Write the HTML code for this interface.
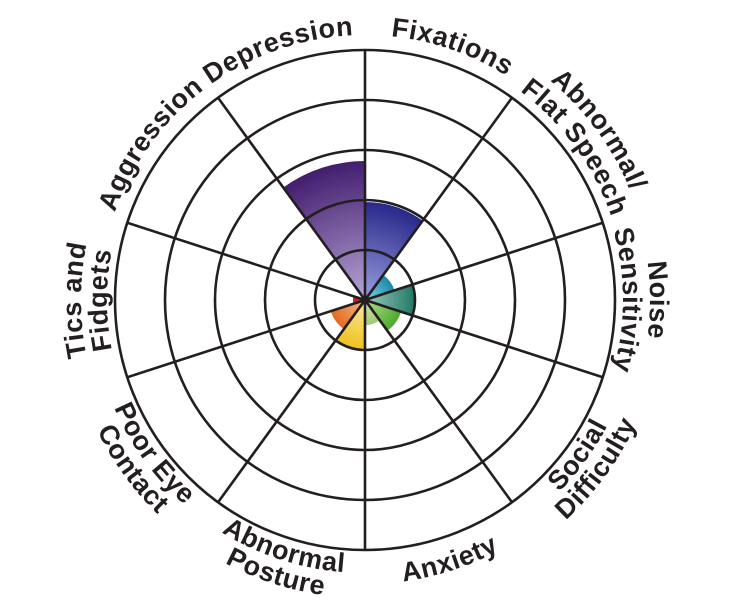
<!DOCTYPE html>
<html><head><meta charset="utf-8">
<style>
html,body{margin:0;padding:0;background:#fff;width:732px;height:600px;overflow:hidden}
svg{display:block}
text{font-family:"Liberation Sans",sans-serif;font-weight:bold;font-size:27px;letter-spacing:0.6px;fill:#231f20}
</style></head>
<body>
<svg id="s" width="732" height="600" viewBox="0 0 732 600" xmlns="http://www.w3.org/2000/svg">
<defs>
<radialGradient id="gP" cx="365" cy="300" r="140" gradientUnits="userSpaceOnUse"><stop offset="0" stop-color="#b7a6d6"/><stop offset="1" stop-color="#421c6e"/></radialGradient>
<radialGradient id="gB" cx="365" cy="300" r="100" gradientUnits="userSpaceOnUse"><stop offset="0" stop-color="#9aa0e0"/><stop offset="1" stop-color="#262688"/></radialGradient>
<radialGradient id="gT" cx="365" cy="300" r="32" gradientUnits="userSpaceOnUse"><stop offset="0" stop-color="#8cd4e8"/><stop offset="1" stop-color="#1487a6"/></radialGradient>
<radialGradient id="gN" cx="365" cy="300" r="50" gradientUnits="userSpaceOnUse"><stop offset="0" stop-color="#9cccc0"/><stop offset="1" stop-color="#237865"/></radialGradient>
<radialGradient id="gG" cx="365" cy="300" r="38" gradientUnits="userSpaceOnUse"><stop offset="0" stop-color="#b4dc90"/><stop offset="1" stop-color="#4cab2c"/></radialGradient>
<radialGradient id="gL" cx="365" cy="300" r="26" gradientUnits="userSpaceOnUse"><stop offset="0" stop-color="#d2e8b8"/><stop offset="1" stop-color="#9cc870"/></radialGradient>
<radialGradient id="gY" cx="365" cy="300" r="50" gradientUnits="userSpaceOnUse"><stop offset="0" stop-color="#fae8a0"/><stop offset="1" stop-color="#efc21c"/></radialGradient>
<radialGradient id="gO" cx="365" cy="300" r="36" gradientUnits="userSpaceOnUse"><stop offset="0" stop-color="#f8b890"/><stop offset="1" stop-color="#e46a1c"/></radialGradient>
</defs>
<g id="slices"></g>
<g id="grid" fill="none" stroke="#231f20" stroke-width="2.6"></g>
<g id="labels"></g>
</svg>
<script>
var cx=365,cy=300,NS="http://www.w3.org/2000/svg";
function P(r,a){a=a*Math.PI/180;return [(cx+r*Math.sin(a)).toFixed(2),(cy-r*Math.cos(a)).toFixed(2)];}
function el(t,at,par){var e=document.createElementNS(NS,t);for(var k in at)e.setAttribute(k,at[k]);par.appendChild(e);return e;}
var sl=document.getElementById('slices'),gr=document.getElementById('grid'),lb=document.getElementById('labels');
var data=[[0,98,'url(#gB)'],[36,31,'url(#gT)'],[72,49,'url(#gN)'],[108,38,'url(#gG)'],[144,25,'url(#gL)'],[180,50,'url(#gY)'],[216,36,'url(#gO)'],[252,12,'#c42026'],[324,139,'url(#gP)']];
data.forEach(function(d){var a=P(d[1],d[0]),b=P(d[1],d[0]+36);
el('path',{d:'M'+cx+' '+cy+'L'+a[0]+' '+a[1]+'A'+d[1]+' '+d[1]+' 0 0 1 '+b[0]+' '+b[1]+'Z',fill:d[2]},sl);});
[50,100,150,200,250].forEach(function(r){el('circle',{cx:cx,cy:cy,r:r},gr);});
for(var i=0;i<5;i++){var a=P(250,i*36),b=P(250,i*36+180);el('line',{x1:a[0],y1:a[1],x2:b[0],y2:b[1]},gr);}
el('circle',{cx:cx,cy:cy,r:4,fill:'#231f20',stroke:'none'},gr);
var n=0;
function lab(txt,ang,r,ccw){var id='p'+(n++),a,b,d;
if(!ccw){a=P(r,ang-80);b=P(r,ang+80);d='M'+a[0]+' '+a[1]+'A'+r+' '+r+' 0 0 1 '+b[0]+' '+b[1];}
else{a=P(r,ang+80);b=P(r,ang-80);d='M'+a[0]+' '+a[1]+'A'+r+' '+r+' 0 0 0 '+b[0]+' '+b[1];}
el('path',{id:id,d:d,fill:'none'},lb);
var t=el('text',{'text-anchor':'middle'},lb);var tp=el('textPath',{href:'#'+id,startOffset:'50%'},t);
tp.setAttributeNS('http://www.w3.org/1999/xlink','xlink:href','#'+id);tp.textContent=txt;}
lab('Fixations',19,265);
lab('Abnormal/',54,287);lab('Flat Speech',54,260);
lab('Noise',90,285);lab('Sensitivity',90,258);
lab('Social',126,273,1);lab('Difficulty',126,298,1);
lab('Anxiety',162,284,1);
lab('Abnormal',198,273,1);lab('Posture',198,298,1);
lab('Poor Eye',234,273,1);lab('Contact',234,298,1);
lab('Tics and',270,284);lab('Fidgets',270,258);
lab('Aggression',306,265);
lab('Depression',341,265);
</script>
</body></html>
